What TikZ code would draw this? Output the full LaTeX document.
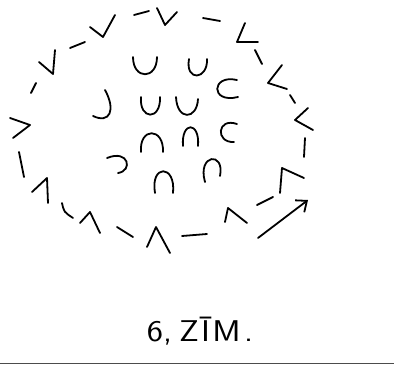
\documentclass[tikz,border=0pt]{standalone}
\usepackage{amsmath}
\usepackage{tikz}
\usetikzlibrary{arrows.meta}

\begin{document}
\begin{tikzpicture}[x=1pt,y=-1pt,
    penline/.style={line width=1.8pt,line cap=round,line join=round},
    cupline/.style={line width=1.8pt,line cap=round}]

  \useasboundingbox (0,0) rectangle (394,367);

  % ring of marks, clockwise from the top
  \draw[penline] (134,15) -- (149,11);
  \draw[penline] (157,8) -- (165,25) -- (177,12);
  \draw[penline] (203,18) -- (220,21);
  \draw[penline] (245,23) -- (237,42) -- (258,42);
  \draw[penline] (255,50) -- (262,64);
  \draw[penline] (282,65) -- (268,83) -- (287,89);
  \draw[penline] (290,95) -- (295,103);
  \draw[penline] (308,108) -- (295,120) -- (313,130);
  \draw[penline] (305,138) -- (304,157);
  \draw[penline] (280,193) -- (282,168) -- (304,178);
  \draw[penline] (257,205) -- (273,197);

  \coordinate (s) at (258,238);
  \coordinate (t) at (308,200);
  \draw[penline,-{Straight Barb[length=9pt,width=15pt,line width=1.8pt]}] (s) -- (t);

  \draw[penline] (225,222) -- (228,208) -- (247,223);
  \draw[penline] (182,236) -- (207,234);
  \draw[penline] (147,247) -- (156,227) -- (170,253);
  \draw[penline] (117,227) -- (133,237);
  \draw[penline] (80,223) -- (90,212) -- (100,233);
  \draw[penline] (62,203) .. controls (64,212) .. (73,218);
  \draw[penline] (32,192) -- (47,178) -- (48,203);
  \draw[penline] (19,152) -- (24,177);
  \draw[penline] (10,118) -- (30,125) -- (13,138);
  \draw[penline] (31,93) -- (36,83);
  \draw[penline] (39,62) -- (53,74) -- (55,50);
  \draw[penline] (70,48) -- (85,42);
  \draw[penline] (90,27) -- (103,37) -- (115,15);

  % cups inside
  \draw[cupline] (133,57) .. controls (133,80) and (157,80) .. (157,57);
  \draw[cupline] (189,59) .. controls (185,82) and (208,80) .. (207,59);
  \draw[cupline] (237,80) .. controls (211,74) and (210,104) .. (238,97);
  \draw[cupline] (105,90) .. controls (116,110) and (110,124) .. (93,116);
  \draw[cupline] (141,97) .. controls (139,120) and (161,121) .. (160,97);
  \draw[cupline] (176,97) .. controls (177,121) and (197,120) .. (198,99);
  \draw[cupline] (237,124) .. controls (217,117) and (215,143) .. (234,142);

  % caps inside
  \draw[cupline] (141,152) .. controls (139,127) and (164,127) .. (163,152);
  \draw[cupline] (183,146) .. controls (181,121) and (200,121) .. (198,146);
  \draw[cupline] (107,158) .. controls (129,149) and (133,171) .. (118,173);
  \draw[cupline] (205,182) .. controls (197,154) and (225,151) .. (220,176);
  \draw[cupline] (155,193) .. controls (150,164) and (176,164) .. (173,193);

  \node[font=\sffamily\fontsize{30}{32}\selectfont,xscale=1.15] (title) at (200,331) {6,\hspace{6pt}Z\hspace{2pt}\={I}\hspace{2pt}M\hspace{3pt}.};

  \coordinate (l1) at (0,363.5);
  \coordinate (l2) at (394,363.5);
  \draw[black!70,line width=0.9pt] (l1) -- (l2);

\end{tikzpicture}
\end{document}
